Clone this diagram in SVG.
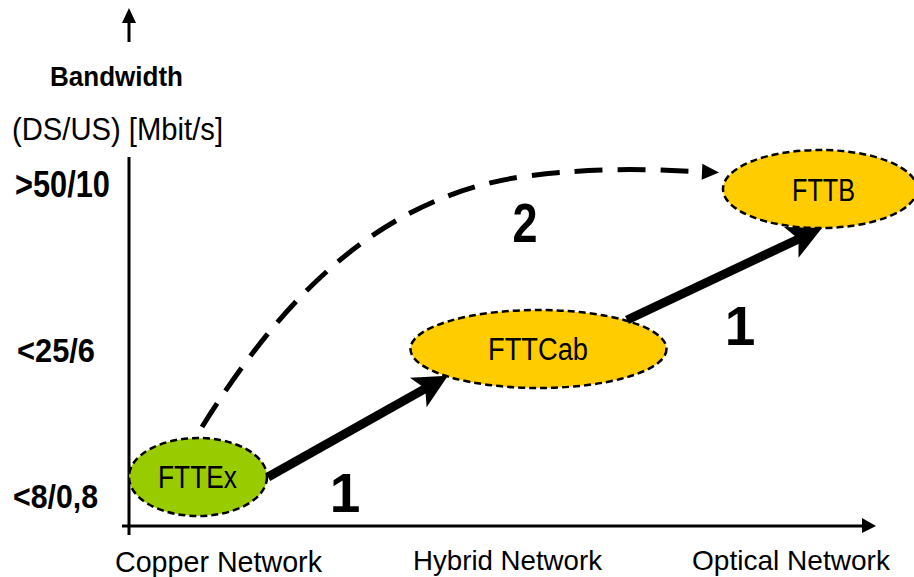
<svg xmlns="http://www.w3.org/2000/svg" width="914" height="577" viewBox="0 0 914 577">
<style>
text{font-family:"Liberation Sans",Arial,sans-serif;fill:#000}
.b{font-weight:bold}
.node{stroke:#000;stroke-width:2.5;stroke-dasharray:7 4}
.axis{stroke:#000;stroke-width:3;fill:none}
.thick{stroke:#000;stroke-width:9;fill:none}
.dash{stroke:#000;stroke-width:5;fill:none;stroke-dasharray:28 15}
</style>
<defs>
<marker id="big" markerUnits="userSpaceOnUse" markerWidth="40" markerHeight="40" viewBox="-2 -20 40 40" refX="10" refY="0" orient="auto">
<path d="M34,0 L0,-17 L8,0 L0,17 Z" fill="#000"/>
</marker>
<marker id="small" markerUnits="userSpaceOnUse" markerWidth="24" markerHeight="24" viewBox="-2 -12 24 24" refX="4" refY="0" orient="auto">
<path d="M17,0 L0,-8 L0,8 Z" fill="#000"/>
</marker>
</defs>
<rect width="914" height="577" fill="#fff"/>
<g id="axes">
<line class="axis" x1="129" y1="42" x2="129" y2="20"/>
<path d="M129,8 L122,23 L136,23 Z" fill="#000"/>
<line class="axis" x1="129" y1="157" x2="129" y2="535"/>
<line class="axis" x1="122" y1="526" x2="864" y2="526"/>
<path d="M876,526 L862,518 L862,533 Z" fill="#000"/>
</g>
<g id="labels">
<text class="b" x="50" y="86" font-size="27" textLength="133" lengthAdjust="spacingAndGlyphs">Bandwidth</text>
<text x="12" y="140" font-size="31" textLength="211" lengthAdjust="spacingAndGlyphs">(DS/US) [Mbit/s]</text>
<text class="b" x="15" y="197" font-size="36" textLength="95" lengthAdjust="spacingAndGlyphs">&gt;50/10</text>
<text class="b" x="17" y="362" font-size="33" textLength="78" lengthAdjust="spacingAndGlyphs">&lt;25/6</text>
<text class="b" x="13" y="508" font-size="34" textLength="85" lengthAdjust="spacingAndGlyphs">&lt;8/0,8</text>
<text x="115" y="572" font-size="30" textLength="207" lengthAdjust="spacingAndGlyphs">Copper Network</text>
<text x="413" y="570" font-size="28" textLength="189" lengthAdjust="spacingAndGlyphs">Hybrid Network</text>
<text x="692" y="570" font-size="28" textLength="198" lengthAdjust="spacingAndGlyphs">Optical Network</text>
<text class="b" x="345" y="512" font-size="55" text-anchor="middle">1</text>
<text class="b" x="740" y="345" font-size="55" text-anchor="middle">1</text>
<text class="b" x="525" y="242" font-size="55" text-anchor="middle" textLength="25" lengthAdjust="spacingAndGlyphs">2</text>
</g>
<g id="FTTEx">
<ellipse class="node" cx="198" cy="477" rx="69" ry="39" fill="#99CC00"/>
<text x="158" y="488" font-size="31" textLength="79" lengthAdjust="spacingAndGlyphs">FTTEx</text>
</g>
<g id="FTTCab">
<ellipse class="node" cx="538.5" cy="349" rx="128" ry="39" fill="#FFCC00"/>
<text x="488" y="360" font-size="31" textLength="100" lengthAdjust="spacingAndGlyphs">FTTCab</text>
</g>
<g id="FTTB">
<ellipse class="node" cx="820" cy="189" rx="97" ry="39" fill="#FFCC00"/>
<text x="792" y="201" font-size="31" textLength="63" lengthAdjust="spacingAndGlyphs">FTTB</text>
</g>
<g id="connectors">
<line class="thick" x1="268" y1="477" x2="427" y2="387.6" marker-end="url(#big)"/>
<line class="thick" x1="627" y1="320" x2="800.3" y2="238.2" marker-end="url(#big)"/>
<path class="dash" d="M202,427 C275,310 370,200 520,177 C600,166 660,170 706,172" marker-end="url(#small)"/>
</g>
</svg>
